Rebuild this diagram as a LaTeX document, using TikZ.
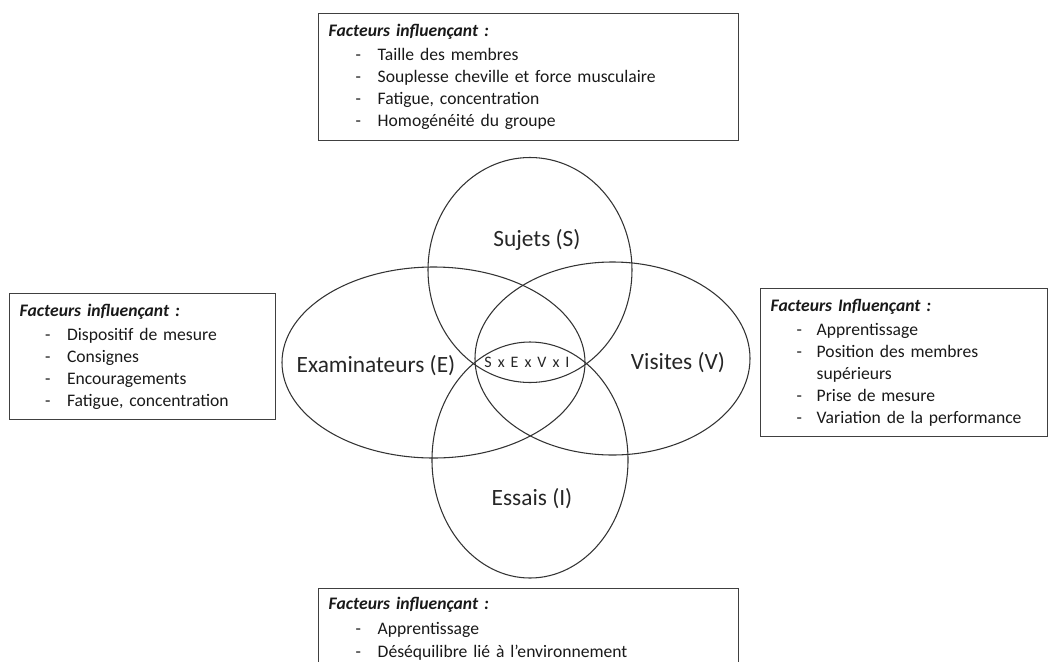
\documentclass[tikz,border=0pt]{standalone}
\usepackage{fontspec}
\setmainfont{Carlito}
\usetikzlibrary{shapes.geometric,positioning}

\def\px{0.75pt}
\newcommand{\factorhead}[1]{\multicolumn{2}{@{}l}{\textbf{\textit{#1}}}}
\newcommand{\crossgap}{\hspace{4.5pt}}

\begin{document}
\begin{tikzpicture}[x=\px,y=-\px,
    setshape/.style={draw=black!80,ellipse,line width=0.8pt,inner sep=0pt},
    setlabel/.style={font=\fontsize{17.5}{20}\selectfont,text=black!85},
    crosslabel/.style={font=\fontsize{12}{14}\selectfont,text=black!85},
    factorbox/.style={draw=black!75,line width=1.1pt,anchor=north west,
        align=left,inner xsep=7.5pt,inner ysep=4pt,text=black!90,
        font=\fontsize{13.2}{16.5}\selectfont},
]

% ---- Frame ---------------------------------------------------------------
\useasboundingbox (0,0) rectangle (1050,661);

% ---- Sets (S, E, V, I) ---------------------------------------------------
\node[setshape,minimum width=204*\px,minimum height=225*\px] (setS) at (530,270) {};
\node[setshape,minimum width=196*\px,minimum height=236*\px] (setI) at (530,460) {};
\node[setshape,minimum width=303*\px,minimum height=191*\px] (setE) at (433.5,362.5) {};
\node[setshape,minimum width=275*\px,minimum height=193*\px] (setV) at (612.5,358.5) {};

% ---- Set labels ----------------------------------------------------------
\node[setlabel] (labS) at (537,240) {Sujets (S)};
\node[setlabel] (labE) at (376,366) {Examinateurs (E)};
\node[setlabel] (labV) at (678,363) {Visites (V)};
\node[setlabel] (labI) at (532,499) {Essais (I)};
\node[crosslabel] (labX) at (527,362)
    {S\crossgap x\crossgap E\crossgap x\crossgap V\crossgap x\crossgap I};

% ---- Factor boxes --------------------------------------------------------
% top: subjects
\node[factorbox,text width=300pt,minimum height=127*\px] (boxS) at (318,13) {%
    \begin{tabular}{@{\hspace{20.25pt}}p{16.5pt}@{}l}
    \factorhead{Facteurs influençant :}\\[1.5pt]
    - & Taille des membres\\
    - & Souplesse cheville et force musculaire\\
    - & Fatigue, concentration\\
    - & Homogénéité du groupe
    \end{tabular}};

% left: examiners
\node[factorbox,text width=184.5pt,minimum height=126*\px] (boxE) at (9,293) {%
    \begin{tabular}{@{\hspace{19pt}}p{16.5pt}@{}l}
    \factorhead{Facteurs influençant :}\\[1.5pt]
    - & Dispositif de mesure\\
    - & Consignes\\
    - & Encouragements\\
    - & Fatigue, concentration
    \end{tabular}};

% right: visits
\node[factorbox,text width=200.25pt,minimum height=148*\px] (boxV) at (760,288) {%
    \begin{tabular}{@{\hspace{19.5pt}}p{15pt}@{}l}
    \factorhead{Facteurs Influençant :}\\[1.5pt]
    - & Apprentissage\\
    - & Position des membres\\
      & supérieurs\\
    - & Prise de mesure\\
    - & Variation de la performance
    \end{tabular}};

% bottom: trials (runs off the page)
\node[factorbox,text width=300pt,text depth=80pt] (boxI) at (318,588) {%
    \begin{tabular}{@{\hspace{20.25pt}}p{16.5pt}@{}l}
    \factorhead{Facteurs influençant :}\\[2pt]
    - & Apprentissage\\[1pt]
    - & Déséquilibre lié à l'environnement
    \end{tabular}};

\end{tikzpicture}
\end{document}
